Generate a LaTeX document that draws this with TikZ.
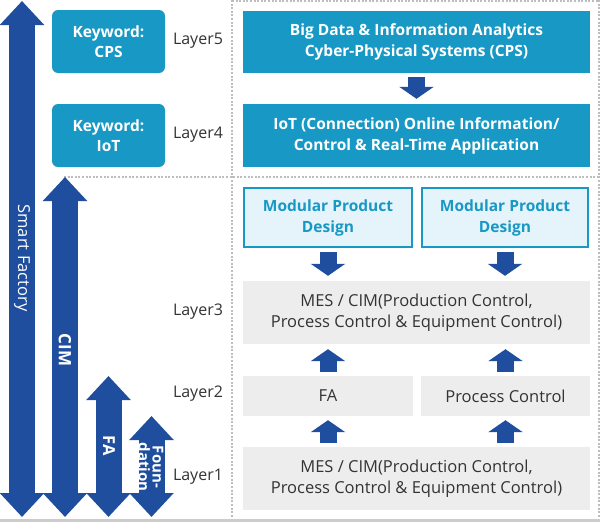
\documentclass[tikz,border=0pt]{standalone}
\usepackage{fontspec}
\setmainfont{Open Sans}
\usetikzlibrary{arrows.meta,calc}
\definecolor{arrblue}{HTML}{1F4E9F}
\definecolor{tealc}{HTML}{1898C4}
\definecolor{lightfill}{HTML}{E5F3FA}
\definecolor{grayfill}{HTML}{EDEDED}
\definecolor{txt}{HTML}{333333}
\definecolor{dotgray}{HTML}{BDBDBD}
\tikzset{
  boxbase/.style={inner sep=0pt, align=center},
  tealbox/.style={boxbase, fill=tealc, text=white, font=\bfseries\fontsize{15.5}{21}\selectfont},
  kwbox/.style={tealbox, rounded corners=6pt, minimum width=113pt, minimum height=63pt, font=\bfseries\fontsize{15.5}{20}\selectfont},
  modbox/.style={boxbase, fill=lightfill, draw=tealc, line width=2pt, text=tealc, font=\bfseries\fontsize{15.5}{21}\selectfont},
  graybox/.style={boxbase, fill=grayfill, text=txt, font=\fontsize{16.5}{21}\selectfont},
  layerlbl/.style={inner sep=0pt, text=txt, font=\fontsize{16}{18}\selectfont},
  blockarr/.style={draw=arrblue, line width=17pt, -{Triangle[width=34pt,length=12pt]}},
  bigarr/.style={draw=arrblue, line width=26pt, {Triangle[width=43pt,length=24pt]}-{Triangle[width=43pt,length=24pt]}},
  arrtxt/.style={text=white, rotate=-90, inner sep=0pt, align=center},
  dotline/.style={draw=dotgray, line width=1.6pt, dash pattern=on 2pt off 1.6pt}
}
\begin{document}
\begin{tikzpicture}[x=1pt,y=-1pt]
\useasboundingbox (0,0) rectangle (600,522);
% frame lines
\fill[black!20] (0,519) rectangle (600,522);
\draw[dotline] (232,0) -- (232,518);
\draw[dotline] (232,1) -- (600,1);
\draw[dotline] (599,0) -- (599,518);
\draw[dotline] (64,177) -- (600,177);

% left double arrows
\coordinate (sft) at (22,1);   \coordinate (sfb) at (22,517);
\coordinate (cimt) at (65,177); \coordinate (cimb) at (65,517);
\coordinate (fat) at (108.5,376); \coordinate (fab) at (108.5,517);
\coordinate (fot) at (151.5,416); \coordinate (fob) at (151.5,517);
\draw[bigarr] (sft) -- (sfb);
\draw[bigarr] (cimt) -- (cimb);
\draw[bigarr] (fat) -- (fab);
\draw[bigarr] (fot) -- (fob);
\node[arrtxt, font=\fontsize{16.5}{18}\selectfont] (sftxt) at (22,258) {Smart Factory};
\node[arrtxt, font=\bfseries\fontsize{17}{18}\selectfont] (cimtxt) at (65,350) {CIM};
\node[arrtxt, font=\bfseries\fontsize{16.5}{18}\selectfont] (fatxt) at (109,446) {FA};
\node[arrtxt, font=\bfseries\fontsize{15}{14}\selectfont] (fotxt) at (151,467) {Foun-\\dation};

% keyword boxes
\node[kwbox] (kw5) at (108.5,41.5) {Keyword:\\CPS};
\node[kwbox] (kw4) at (108.5,135.5) {Keyword:\\IoT};

% layer labels
\node[layerlbl] (l5) at (198,41) {Layer5};
\node[layerlbl] (l4) at (198,135) {Layer4};
\node[layerlbl] (l3) at (198,312) {Layer3};
\node[layerlbl] (l2) at (198,394) {Layer2};
\node[layerlbl] (l1) at (198,477) {Layer1};

% top right boxes
\node[tealbox, minimum width=347pt, minimum height=62pt] (big1) at (416.5,42) {Big Data \& Information Analytics\\Cyber-Physical Systems (CPS)};
\node[tealbox, minimum width=347pt, minimum height=63pt] (big2) at (416.5,135.5) {IoT (Connection) Online Information/\\Control \& Real-Time Application};
\draw[blockarr] ($(big1.south)+(0,4)$) -- ($(big2.north)+(0,-5)$);

% lower boxes
\node[modbox, minimum width=168pt, minimum height=59pt] (mod1) at (328,217.5) {Modular Product\\Design};
\node[modbox, minimum width=166pt, minimum height=59pt] (mod2) at (505,217.5) {Modular Product\\Design};
\node[graybox, minimum width=347pt, minimum height=63pt] (mes1) at (416.5,312.5) {MES / CIM(Production Control,\\Process Control \& Equipment Control)};
\node[graybox, minimum width=170pt, minimum height=40pt] (fa) at (328,396) {FA};
\node[graybox, minimum width=169pt, minimum height=40pt] (pc) at (505.5,396) {Process Control};
\node[graybox, minimum width=347pt, minimum height=63pt] (mes2) at (416.5,478.5) {MES / CIM(Production Control,\\Process Control \& Equipment Control)};

\draw[blockarr] ($(mod1.south)+(0,4)$) -- ($(mod1.south|-mes1.north)+(0,-5)$);
\draw[blockarr] ($(mod2.south)+(0,4)$) -- ($(mod2.south|-mes1.north)+(0,-5)$);
\draw[blockarr] ($(fa.north)+(0,-4)$) -- ($(fa.north|-mes1.south)+(0,5)$);
\draw[blockarr] ($(pc.north)+(0,-4)$) -- ($(pc.north|-mes1.south)+(0,5)$);
\draw[blockarr] ($(fa.south|-mes2.north)+(0,-4)$) -- ($(fa.south)+(0,4)$);
\draw[blockarr] ($(pc.south|-mes2.north)+(0,-4)$) -- ($(pc.south)+(0,4)$);
\end{tikzpicture}
\end{document}
